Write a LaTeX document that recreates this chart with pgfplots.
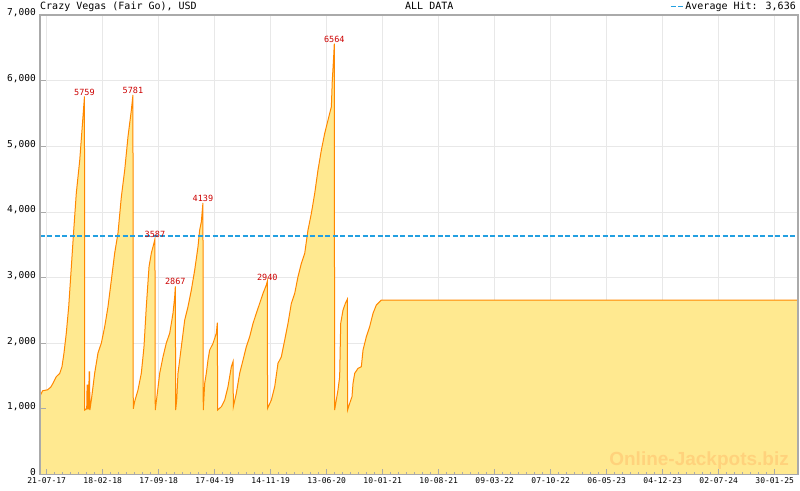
\documentclass[border=0pt]{standalone}
\usepackage{pgfplots}
\pgfplotsset{compat=1.18}
\usepackage{pgfplotstable}
\usepackage{fontspec}
\setmainfont{DejaVu Sans Mono}
\newfontfamily\wmfont{Liberation Sans}

\definecolor{HitFill}{HTML}{FFE990}
\definecolor{HitLine}{HTML}{FF8800}
\definecolor{AvgBlue}{RGB}{35,160,225}
\definecolor{PeakRed}{HTML}{CC0000}
\definecolor{FrameGray}{HTML}{AAAAAA}
\definecolor{GridGray}{HTML}{E8E8E8}
\definecolor{Watermark}{HTML}{FFD27C}

% shared frame of both axes
\pgfplotsset{
  jpframe/.style={
    at={(40pt,15.5pt)}, anchor=south west,
    scale only axis, width=758pt, height=459.5pt,
    xmin=-0.8375, xmax=93.9125, ymin=0, ymax=7000,
    xtick={0,7,...,91}, minor x tick num=6,
    ytick={0,1000,...,7000},
    xtick pos=bottom, ytick pos=left,
    tick align=inside,
    major tick length=6pt, minor tick length=3pt,
    tick style={color=FrameGray, line width=0.8pt},
    axis line style={color=FrameGray, line width=1.2pt},
  },
}

% x: months since 21-07-17, y: jackpot in USD
\pgfplotstableread{
x y
-0.84 1196
-0.50 1276
0.10 1290
0.50 1330
0.79 1389
1.20 1490
1.63 1541
1.91 1642
2.16 1850
2.45 2155
2.75 2555
3.08 3164
3.38 3723
3.70 4287
4.13 4789
4.41 5246
4.66 5657
4.72 5759
4.75 982
5.00 1000
5.05 1363
5.12 1363
5.15 1000
5.25 1000
5.30 1565
5.36 1565
5.40 982
5.58 1134
6.00 1545
6.41 1850
6.83 2002
7.25 2251
7.66 2555
8.08 2962
8.50 3373
8.91 3677
9.33 4230
9.75 4637
10.16 5144
10.58 5551
10.78 5781
10.82 1000
10.99 1109
11.41 1287
11.83 1545
12.16 1946
12.45 2555
12.79 3164
13.08 3373
13.41 3525
13.53 3587
13.57 982
13.83 1241
14.13 1545
14.54 1794
14.95 2002
15.38 2155
15.79 2459
16.00 2708
16.08 2867
16.12 982
16.25 1134
16.41 1541
16.83 1946
17.25 2353
17.66 2555
18.08 2810
18.50 3114
18.91 3469
19.12 3723
19.33 3850
19.53 4139
19.57 982
19.75 1389
19.95 1541
20.16 1744
20.37 1896
20.79 1998
21.20 2150
21.33 2312
21.37 982
21.83 1033
22.25 1134
22.66 1337
23.08 1642
23.29 1718
23.33 1033
23.70 1236
24.12 1541
24.54 1744
24.95 1946
25.37 2098
25.79 2302
26.20 2455
26.62 2607
27.04 2759
27.45 2886
27.57 2940
27.61 1008
28.08 1134
28.50 1337
28.91 1693
29.33 1794
29.75 2048
30.16 2302
30.58 2607
31.00 2759
31.41 3012
31.83 3216
32.25 3368
32.66 3723
33.08 3977
33.50 4282
33.91 4637
34.33 4941
34.75 5196
35.16 5398
35.58 5601
35.70 6007
35.87 6362
35.95 6564
35.99 982
36.20 1134
36.41 1287
36.62 1489
36.75 2302
37.04 2505
37.33 2607
37.57 2668
37.61 982
37.87 1084
38.16 1185
38.29 1389
38.50 1541
38.91 1617
39.33 1642
39.54 1896
39.75 1998
39.95 2098
40.37 2251
40.79 2455
41.20 2581
41.83 2657
93.92 2657
}\hits

\begin{document}
\begin{tikzpicture}
\useasboundingbox (0,0) rectangle (800pt,490pt);
\begin{axis}[
    jpframe,
    xticklabels={21-07-17,18-02-18,17-09-18,17-04-19,14-11-19,13-06-20,10-01-21,
      10-08-21,09-03-22,07-10-22,06-05-23,04-12-23,02-07-24,30-01-25},
    xmajorgrids, ymajorgrids,
    major grid style={color=GridGray, line width=0.8pt},
    xticklabel style={font=\fontsize{8}{8}\selectfont, inner sep=1pt, yshift=-2pt},
    yticklabel style={font=\fontsize{9.5}{9.5}\selectfont, inner sep=1pt, xshift=-3pt, yshift=2pt},
    yticklabel={\pgfmathprintnumber[1000 sep={,}, assume math mode=true]{\tick}},
    legend style={at={(1,1)}, anchor=south east, draw=none, fill=none,
      inner sep=0pt, yshift=2pt, font=\fontsize{10}{10}\selectfont},
    legend cell align=left,
    legend image code/.code={\draw[#1] (0pt,0pt) -- (12pt,0pt);},
  ]
  \addplot[draw=none, fill=HitFill, forget plot] table[x=x, y=y] {\hits} \closedcycle;
  \addplot[color=HitLine, line width=1pt, forget plot] table[x=x, y=y] {\hits};
  \addplot[AvgBlue, line width=1.4pt, dash pattern=on 5pt off 2.5pt]
    table[x=x, y=y] {
      x y
      -0.8375 3636
      93.9125 3636
    };
  \addlegendentry{Average Hit: 3,636}
  \addplot[draw=none, nodes near coords, point meta=explicit symbolic,
    every node near coord/.append style={color=PeakRed, anchor=south,
      inner sep=1pt, font=\fontsize{8.5}{8.5}\selectfont}, forget plot]
    coordinates {(4.72,5759) [5759] (10.78,5781) [5781] (13.53,3587) [3587]
      (16.08,2867) [2867] (19.53,4139) [4139] (27.57,2940) [2940]
      (35.95,6564) [6564]};
\end{axis}
\node[anchor=base east, inner sep=0pt, color=Watermark,
  font=\wmfont\bfseries\fontsize{19}{19}\selectfont] at (789pt,25pt)
  {Online-Jackpots.biz};
% ticks and frame again, over the filled area
\begin{axis}[jpframe, xticklabels=\empty, yticklabels=\empty]
\end{axis}
\node[anchor=base west, inner sep=0pt, font=\fontsize{10}{10}\selectfont] at (40pt,480.5pt)
  {Crazy Vegas (Fair Go), USD};
\node[anchor=base west, inner sep=0pt, font=\fontsize{10}{10}\selectfont] at (405pt,480.5pt)
  {ALL DATA};
\end{tikzpicture}
\end{document}
